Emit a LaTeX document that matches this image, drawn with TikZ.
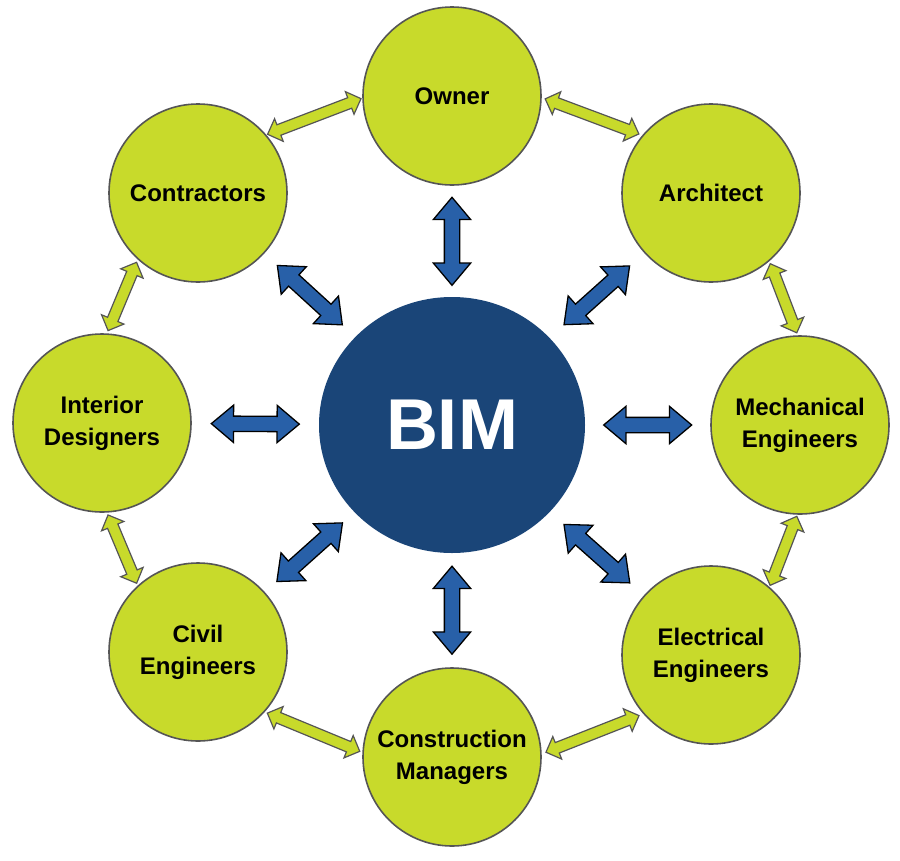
\documentclass[tikz,border=0pt]{standalone}
\usepackage{fontspec}
\setmainfont{Liberation Sans}
\usetikzlibrary{shapes.arrows,shapes.geometric,calc}
\definecolor{rolegreen}{RGB}{200,218,43}
\definecolor{rolerim}{RGB}{85,85,85}
\definecolor{bimblue}{RGB}{26,69,120}
\definecolor{arrowblue}{RGB}{40,96,168}
\tikzset{
  role/.style={circle, draw=rolerim, line width=1.6pt, fill=rolegreen, minimum size=178pt,
    inner sep=0pt, align=center, font=\bfseries\fontsize{24}{32}\selectfont},
  hub/.style={ellipse, fill=bimblue, minimum width=266pt, minimum height=256pt,
    inner sep=0pt, text=white, font=\bfseries\fontsize{72}{80}\selectfont},
  bluearrow/.style={double arrow, draw=black, line width=1.3pt, fill=arrowblue,
    minimum height=88pt, inner xsep=0pt, inner ysep=7pt, double arrow head extend=11pt,
    double arrow tip angle=80},
  greenarrow/.style={double arrow, draw=rolerim, line width=1.2pt, fill=rolegreen,
    inner xsep=0pt, inner ysep=5pt, double arrow head extend=6.5pt,
    double arrow tip angle=90},
  greenlong/.style={greenarrow, minimum height=100pt},
  greenshort/.style={greenarrow, minimum height=74pt},
}
\begin{document}
\begin{tikzpicture}[x=1pt,y=-1pt]
\useasboundingbox[fill=white] (0,0) rectangle (900,860);
\node[hub] (bim) at (452,425) {BIM};
\node[role] (owner) at (452,96) {Owner};
\node[role] (contractors) at (198,193) {Contractors};
\node[role] (architect) at (711,193) {Architect};
\node[role] (interior) at (102,423) {Interior\\Designers};
\node[role] (mech) at (800,425) {Mechanical\\Engineers};
\node[role] (civil) at (198,652) {Civil\\Engineers};
\node[role] (elec) at (711,655) {Electrical\\Engineers};
\node[role] (cm) at (452,757) {Construction\\Managers};
% blue two-way arrows between BIM and each role
\foreach \r in {owner,contractors,architect,interior,mech,civil,elec,cm}{
  \path (bim) -- (\r) node[midway, sloped, bluearrow] (b-\r) {};
}
% green two-way arrows between neighbouring roles (offset outward)
\foreach \a/\b/\s in {contractors/owner/greenlong, owner/architect/greenlong,
    architect/mech/greenshort, mech/elec/greenshort, elec/cm/greenlong,
    cm/civil/greenlong, civil/interior/greenshort, interior/contractors/greenshort}{
  \path ($(\a)!30pt!90:(\b)$) -- ($(\b)!30pt!-90:(\a)$) node[midway, sloped, \s] (g-\a-\b) {};
}
\end{tikzpicture}
\end{document}
